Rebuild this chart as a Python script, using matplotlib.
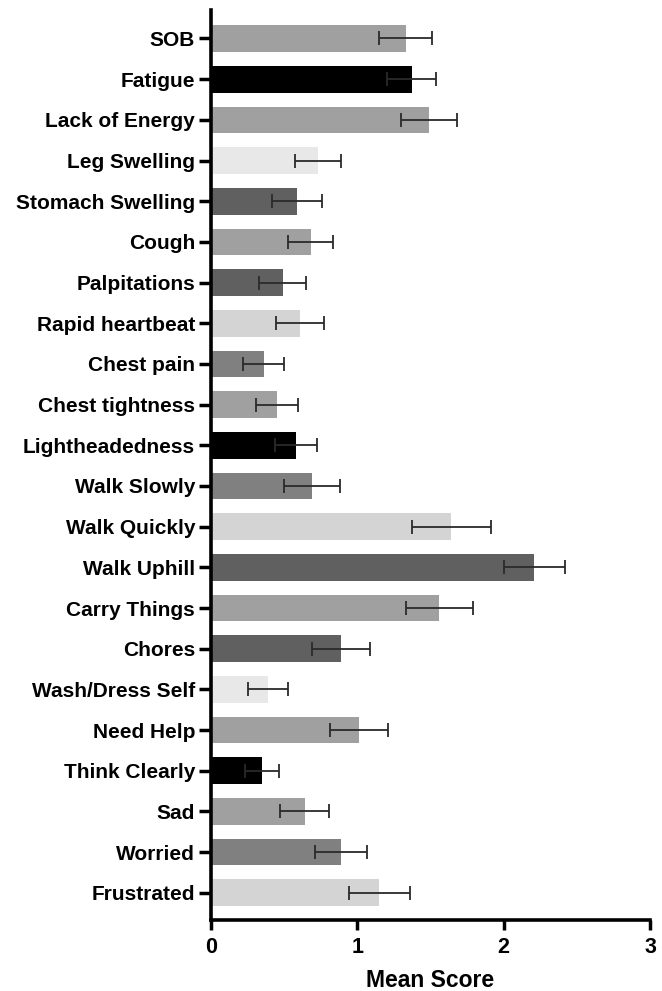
import matplotlib.pyplot as plt
import numpy as np

plt.rcParams['font.family'] = ['Liberation Sans', 'DejaVu Sans']
plt.rcParams['font.weight'] = 'bold'

symptoms = ['SOB', 'Fatigue', 'Lack of Energy', 'Leg Swelling', 'Stomach Swelling',
            'Cough', 'Palpitations', 'Rapid heartbeat', 'Chest pain', 'Chest tightness',
            'Lightheadedness', 'Walk Slowly', 'Walk Quickly', 'Walk Uphill', 'Carry Things',
            'Chores', 'Wash/Dress Self', 'Need Help', 'Think Clearly', 'Sad', 'Worried',
            'Frustrated']
mean_score = [1.33, 1.37, 1.49, 0.73, 0.59, 0.68, 0.49, 0.61, 0.36, 0.45,
              0.58, 0.69, 1.64, 2.21, 1.56, 0.89, 0.39, 1.01, 0.35, 0.64, 0.89, 1.15]
sem = [0.18, 0.17, 0.19, 0.155, 0.17, 0.153, 0.16, 0.163, 0.14, 0.145,
       0.145, 0.19, 0.27, 0.21, 0.227, 0.197, 0.137, 0.20, 0.117, 0.167, 0.176, 0.21]
bar_colors = ['#a0a0a0', '#000000', '#a0a0a0', '#e8e8e8', '#606060',
              '#a0a0a0', '#606060', '#d4d4d4', '#808080', '#a0a0a0',
              '#000000', '#808080', '#d4d4d4', '#606060', '#a0a0a0',
              '#606060', '#e8e8e8', '#a0a0a0', '#000000', '#a0a0a0', '#808080',
              '#d4d4d4']

fig = plt.figure(figsize=(6.62, 9.91), dpi=100)
ax = fig.add_axes([0.3187, 0.0716, 0.6633, 0.9183])

y = np.arange(len(symptoms))
ax.barh(y, mean_score, height=0.656, color=bar_colors, zorder=2)
ax.errorbar(mean_score, y, xerr=sem, fmt='none', ecolor='#2a2a2a',
            elinewidth=1.3, capsize=4.8, capthick=1.3, zorder=3)

ax.set_ylim(21.67, -0.70)
ax.set_xlim(0, 3)
ax.set_xticks([0, 1, 2, 3])
ax.set_yticks(y)
ax.set_yticklabels(symptoms, fontsize=15, fontweight='bold')
ax.tick_params(axis='x', labelsize=15.5, length=7, width=2.5, pad=5)
ax.tick_params(axis='y', length=8.5, width=2.5, pad=3)
ax.set_xlabel('Mean Score', fontsize=16.5, fontweight='bold', labelpad=8)

for side in ['top', 'right']:
    ax.spines[side].set_visible(False)
for side in ['left', 'bottom']:
    ax.spines[side].set_linewidth(2.6)

fig.savefig('out.png', dpi=100)
